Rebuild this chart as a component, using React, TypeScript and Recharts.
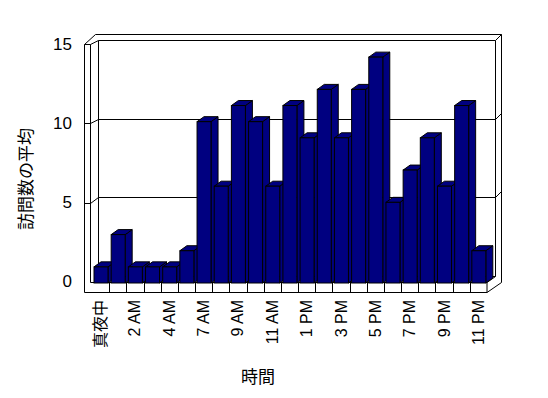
import { BarChart, Bar, XAxis, YAxis, CartesianGrid, Label } from 'recharts';

// hours shown on the x axis (5 AM has no row in the report)
const hours = ['真夜中', '1 AM', '2 AM', '3 AM', '4 AM', '6 AM', '7 AM', '8 AM', '9 AM', '10 AM', '11 AM', '12 PM',
  '1 PM', '2 PM', '3 PM', '4 PM', '5 PM', '6 PM', '7 PM', '8 PM', '9 PM', '10 PM', '11 PM'];
const avgVisits = [1, 3, 1, 1, 1, 2, 10, 6, 11, 10, 6, 11, 9, 12, 9, 12, 14, 5, 7, 9, 6, 11, 2];
const yTicks = [0, 5, 10, 15];

const data = hours.map((h, i) => ({ hour: h, visits: avgVisits[i] }));

const W = 548, H = 398;
const L = 92, R = 487, T = 41, B = 283;
const FONT = "'Liberation Sans', 'Noto Sans CJK JP', sans-serif";
const DX = 7, DY = 5;

function Box3D(props: any) {
  const { x, y, width: w, height: h } = props;
  if (h == null || w == null) return null;
  return (
    <g stroke="#000" strokeWidth={1} fill="#000080">
      <polygon points={`${x + w},${y} ${x + w + DX},${y - DY} ${x + w + DX},${y + h - DY} ${x + w},${y + h}`} />
      <polygon points={`${x},${y} ${x + DX},${y - DY} ${x + w + DX},${y - DY} ${x + w},${y}`} />
      <rect x={x} y={y} width={w} height={h} />
    </g>
  );
}

const ln = (k: string, x1: number, y1: number, x2: number, y2: number) => (
  <line key={k} x1={x1} y1={y1} x2={x2} y2={y2} stroke="#000" strokeWidth={1} />
);

function frame() {
  const FL = L - 7.5, WI = L - 1.5, BL = L + 6.5, BR = R + 8.5, OR = R + 14.5;
  const oTop = T - 6.5, bTop = T - 0.5, fTop = T + 3.5;
  const fFloor = B - 0.5, fBot = B + 9.5, bFloor = B - 6.5;
  const band = (R - L) / hours.length;
  const items = [
    ln('a', FL, fTop, FL, fBot), ln('b', WI, fTop, WI, fFloor), ln('c', BL, bTop, BL, bFloor),
    ln('d', FL, fTop, WI, fTop), ln('e', FL, fTop, BL - 3, oTop), ln('f', WI, fTop, BL, bTop),
    ln('g', BL - 3, oTop, OR, oTop), ln('h', BL, bTop, BR, bTop), ln('i', BR, bTop, OR, oTop),
    ln('j', BR, bTop, BR, bFloor), ln('k', OR, oTop, OR, fFloor),
    ln('l', FL, fBot, R, fBot), ln('m', WI, fFloor, R, fFloor), ln('n', R, fFloor, R, fBot),
    ln('o', R, fBot, OR, fFloor), ln('p', R, fFloor, BR, bFloor), ln('q', BL, bFloor, BR, bFloor),
  ];
  for (let i = 1; i < hours.length; i++) {
    const cx = Math.round(L + i * band) + 0.5;
    items.push(ln('cell' + i, cx, fFloor, cx, fBot));
  }
  return items;
}

function gridLine(props: any) {
  const v = Math.round((15 * (B - props.y1)) / (B - T));
  const parts: any[] = [];
  if (v === 5) parts.push(...frame());
  if (v === 5 || v === 10) {
    const fy = Math.round(B - 1 - (v * (B - 1 - (T + 3))) / 15) + 0.5;
    const by = Math.round(B - 7 - (v * (B - 7 - (T - 1))) / 15) + 0.5;
    parts.push(
      ln('t', L - 7.5, fy, L - 1.5, fy),
      ln('u', L - 1.5, fy, L + 6.5, by),
      ln('w', L + 6.5, by, R + 8.5, by),
      ln('z', R + 8.5, by, R + 14.5, by - 6),
    );
  }
  return <g key={`grid-${props.index}`}>{parts}</g>;
}

function YTick(props: any) {
  const { y, payload } = props;
  const v = payload.value;
  return (
    <text x={72} y={y + (v / 15) * 5 - 2} textAnchor="end" dominantBaseline="central"
      fontFamily={FONT} fontSize={17} fill="#000">{v}</text>
  );
}

function XTick(props: any) {
  const { x, payload } = props;
  return (
    <text transform={`translate(${x},300) rotate(-90)`} textAnchor="end" dominantBaseline="central"
      fontFamily={FONT} fontSize={16} fill="#000">{payload.value}</text>
  );
}

export default function App() {
  return (
    <div style={{ position: 'absolute', left: 0, top: 0, width: W, height: H, background: '#fff' }}>
      <BarChart width={W} height={H} data={data} margin={{ top: T, right: W - R, bottom: 0, left: 0 }}
        barSize={14}>
        <CartesianGrid vertical={false} horizontal={gridLine} />
        <XAxis dataKey="hour" height={H - B} interval={1} axisLine={false} tickLine={false} tick={<XTick />}>
          <Label content={() => (
            <text x={258} y={377} textAnchor="middle" dominantBaseline="central" fontFamily={FONT}
              fontSize={17} fill="#000">時間</text>
          )} />
        </XAxis>
        <YAxis width={L} domain={[0, 15]} ticks={yTicks} axisLine={false} tickLine={false} tick={<YTick />}>
          <Label content={() => (
            <text transform="translate(26,179) rotate(-90)" textAnchor="middle" dominantBaseline="central"
              fontFamily={FONT} fontSize={17} fill="#000">訪問数の平均</text>
          )} />
        </YAxis>
        <Bar dataKey="visits" shape={<Box3D />} isAnimationActive={false} />
      </BarChart>
    </div>
  );
}
